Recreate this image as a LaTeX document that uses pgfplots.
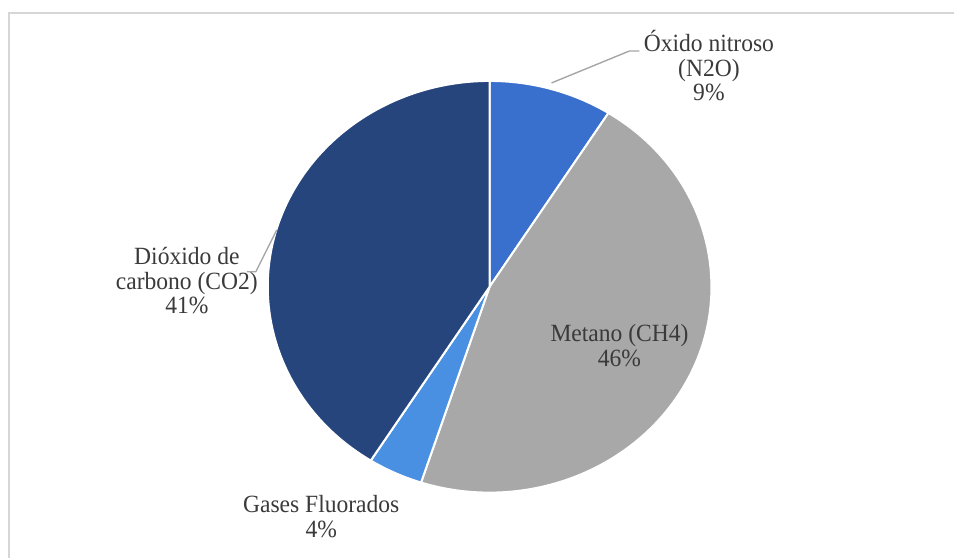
\documentclass[border=0pt]{standalone}
\usepackage{pgfplots}
\usepackage{pgfplotstable}
\usepackage{fontspec}
\pgfplotsset{compat=1.18}
\setmainfont{Liberation Serif}[FakeStretch=0.95]

\definecolor{cNtwo}{HTML}{3A70CD}
\definecolor{cMet}{HTML}{A8A8A8}
\definecolor{cFluor}{HTML}{4A90E2}
\definecolor{cCOtwo}{HTML}{26457D}
\definecolor{txt}{HTML}{3A3A3A}
\definecolor{lead}{HTML}{A6A6A6}
\definecolor{frame}{HTML}{D6D6D6}

% Emissions share by gas (percent), clockwise from the top
\pgfplotstableread{
gas value
N2O 9
CH4 46
Fluor 4
CO2 41
}\gasdata

\pgfplotstablegetelem{0}{value}\of\gasdata \edef\vA{\pgfplotsretval}
\pgfplotstablegetelem{1}{value}\of\gasdata \edef\vB{\pgfplotsretval}
\pgfplotstablegetelem{2}{value}\of\gasdata \edef\vC{\pgfplotsretval}
\pgfplotstablegetelem{3}{value}\of\gasdata \edef\vD{\pgfplotsretval}

% slice boundary angles (degrees), starting at 12 o'clock
\pgfmathsetmacro\aA{90}
\pgfmathsetmacro\aB{\aA-3.6*\vA}
\pgfmathsetmacro\aC{\aB-3.6*\vB}
\pgfmathsetmacro\aD{\aC-3.6*\vC}
\pgfmathsetmacro\aE{\aD-3.6*\vD}

\newcommand\slice[3]{%
  \filldraw[fill=#3, draw=white, line width=1pt, line join=round]
    (axis cs:490,271) -- (axis cs:{490+222*cos(#1)},{271+206*sin(#1)})
    arc[start angle=#1, end angle=#2, x radius=111pt, y radius=103pt] -- cycle;}

\begin{document}
\begin{tikzpicture}
\begin{axis}[
  x=0.5pt, y=0.5pt,
  xmin=0, xmax=955, ymin=0, ymax=558,
  hide axis, clip=false, scale only axis,
]
\path (axis cs:0,0) rectangle (axis cs:955,558);
% chart frame
\draw[frame, line width=0.8pt] (axis cs:9,0) -- (axis cs:9,545) -- (axis cs:955,545);

% pie slices
\slice{\aA}{\aB}{cNtwo}
\slice{\aB}{\aC}{cMet}
\slice{\aC}{\aD}{cFluor}
\slice{\aD}{\aE}{cCOtwo}

% leader lines
\draw[lead, line width=0.7pt, line join=round] (axis cs:552,475) -- (axis cs:630,507) -- (axis cs:640,507);
\draw[lead, line width=0.7pt, line join=round] (axis cs:247,286) -- (axis cs:256,286) -- (axis cs:277,328);

% data labels
\begin{scope}[every node/.style={txt, font=\fontsize{12.4}{13}\selectfont, anchor=base, inner sep=0pt}]
\node at (axis cs:709.5,506) {Óxido nitroso};
\node at (axis cs:709.5,481) {(N2O)};
\node at (axis cs:709.5,457) {\vA\%};

\node at (axis cs:620,216) {Metano (CH4)};
\node at (axis cs:620,191) {\vB\%};

\node at (axis cs:321.5,45) {Gases Fluorados};
\node at (axis cs:321.5,20) {\vC\%};

\node at (axis cs:187,293) {Dióxido de};
\node at (axis cs:187,268) {carbono (CO2)};
\node at (axis cs:187,244) {\vD\%};
\end{scope}
\end{axis}
\end{tikzpicture}
\end{document}
